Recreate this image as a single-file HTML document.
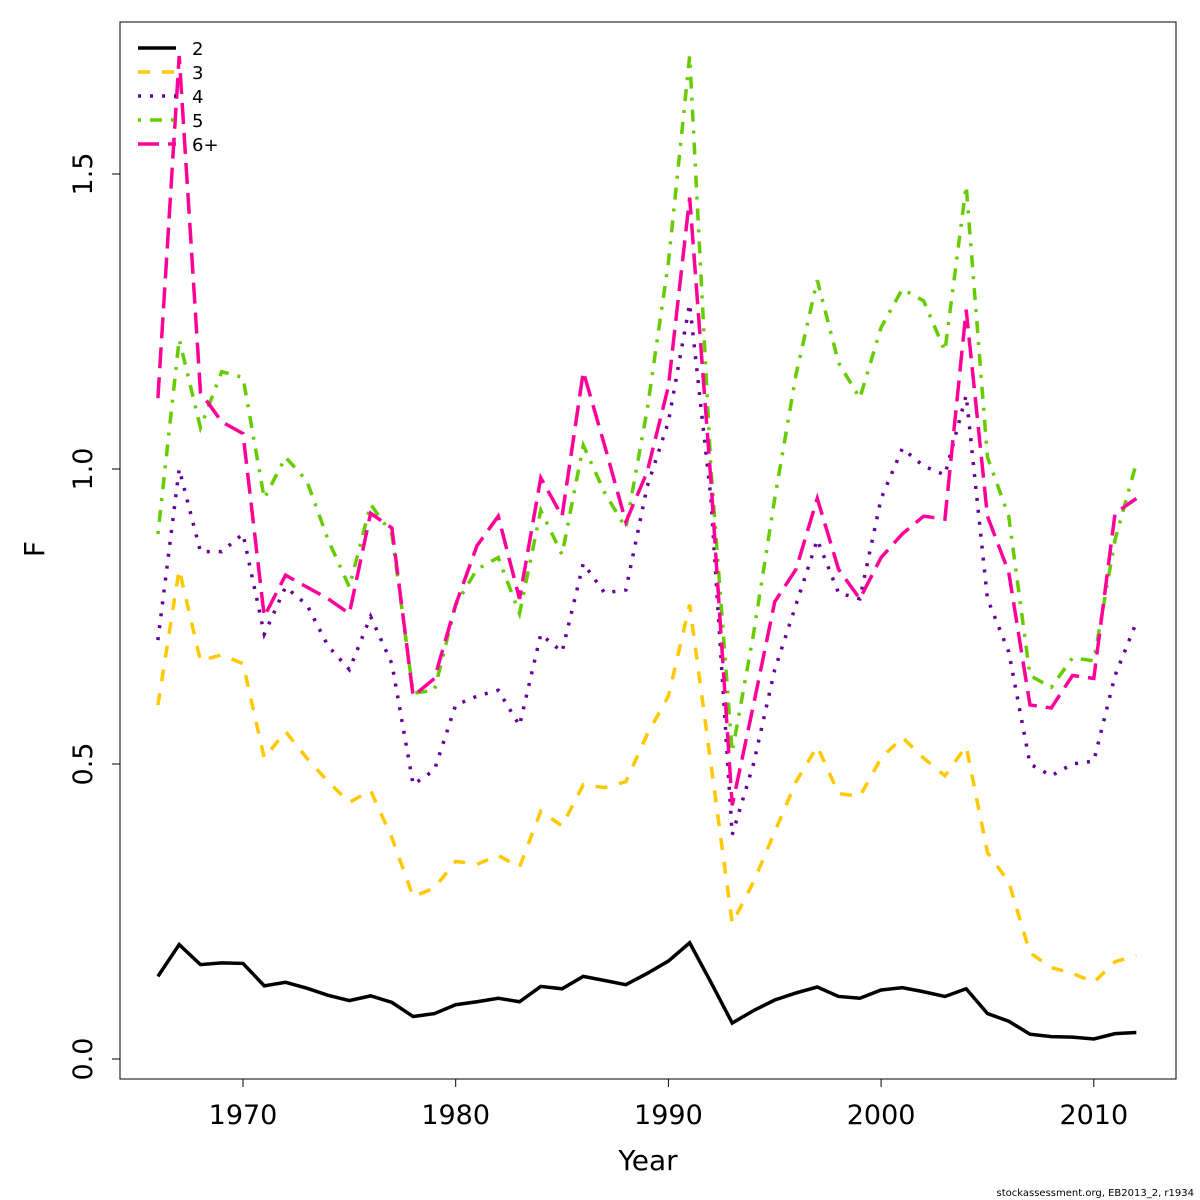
<!DOCTYPE html>
<html><head><meta charset="utf-8"><style>body{margin:0;background:#fff}svg{display:block;font-family:"DejaVu Sans","Liberation Sans",sans-serif}</style></head>
<body>
<svg id="chart" width="1200" height="1200" viewBox="0 0 1200 1200">
<rect x="120" y="22" width="1056" height="1057" fill="none" stroke="#000" stroke-width="1"/>
<g id="axes"></g>
<g id="series"></g>
<g id="legend"></g>
<text x="648" y="1170" font-size="28" text-anchor="middle">Year</text>
<text x="44" y="549" font-size="28" text-anchor="middle" transform="rotate(-90 44 549)">F</text>
<text x="1194" y="1196" font-size="10" text-anchor="end">stockassessment.org, EB2013_2, r1934</text>
</svg>
<script>
const years=[];for(let y=1966;y<=2012;y++)years.push(y);
const age2=[0.14,0.194,0.16,0.163,0.162,0.124,0.13,0.12,0.108,0.099,0.107,0.096,0.072,0.077,0.092,0.097,0.103,0.097,0.123,0.119,0.14,0.133,0.126,0.145,0.166,0.197,0.13,0.061,0.082,0.1,0.112,0.122,0.106,0.103,0.117,0.121,0.114,0.106,0.119,0.077,0.064,0.042,0.038,0.037,0.034,0.043,0.045];
const age3=[0.6,0.83,0.675,0.685,0.67,0.51,0.555,0.51,0.47,0.435,0.455,0.375,0.275,0.29,0.335,0.33,0.345,0.325,0.42,0.395,0.465,0.46,0.47,0.55,0.615,0.77,0.5,0.23,0.3,0.385,0.47,0.53,0.45,0.445,0.51,0.545,0.51,0.48,0.53,0.35,0.3,0.18,0.155,0.145,0.13,0.165,0.175];
const age4=[0.71,1.0,0.86,0.86,0.89,0.72,0.8,0.77,0.7,0.66,0.75,0.67,0.465,0.49,0.6,0.615,0.625,0.565,0.72,0.69,0.84,0.79,0.795,0.97,1.08,1.28,0.95,0.38,0.5,0.66,0.77,0.88,0.79,0.78,0.95,1.035,1.005,0.99,1.125,0.78,0.69,0.5,0.48,0.5,0.505,0.65,0.74];
const age5=[0.89,1.22,1.07,1.165,1.155,0.95,1.02,0.98,0.88,0.8,0.94,0.89,0.62,0.625,0.77,0.83,0.85,0.755,0.93,0.855,1.04,0.96,0.9,1.1,1.35,1.7,1.0,0.52,0.72,0.95,1.16,1.32,1.18,1.12,1.24,1.305,1.285,1.2,1.48,1.02,0.92,0.65,0.63,0.68,0.675,0.88,1.01];
const age6=[1.12,1.7,1.13,1.08,1.06,0.75,0.82,0.8,0.78,0.755,0.925,0.9,0.615,0.645,0.77,0.87,0.92,0.78,0.985,0.92,1.165,1.04,0.91,0.995,1.14,1.46,0.98,0.43,0.6,0.775,0.83,0.95,0.83,0.78,0.85,0.89,0.92,0.915,1.27,0.92,0.825,0.6,0.595,0.65,0.645,0.925,0.95];
const xTicks=[1970,1980,1990,2000,2010];
const yTicks=[0,0.5,1.0,1.5];
const yTickLabels=["0.0","0.5","1.0","1.5"];
const seriesNames=["2","3","4","5","6+"];
const NS="http://www.w3.org/2000/svg";
const sx=y=>243+(y-1970)*21.27;
const sy=v=>1059-v*590;
function mk(t,a,p){const e=document.createElementNS(NS,t);for(const k in a)e.setAttribute(k,a[k]);p.appendChild(e);return e;}
const ax=document.getElementById('axes');
xTicks.forEach((t,i)=>{
 const l=mk('line',{x1:sx(t),x2:sx(t),y1:1079,y2:1087,stroke:'#000'},ax);
 
 
 const tx=mk('text',{x:sx(t),y:1124,'font-size':27,'text-anchor':'middle'},ax);tx.textContent=t;
 
 
});
yTicks.forEach((t,i)=>{
 const l=mk('line',{x1:112,x2:120,y1:sy(t),y2:sy(t),stroke:'#000'},ax);
 
 
 const tx=mk('text',{x:92,y:sy(t),'font-size':27,'text-anchor':'middle',transform:`rotate(-90 92 ${sy(t)})`},ax);tx.textContent=yTickLabels[i];
 
 
});
const data=[age2,age3,age4,age5,age6];
const colors=["#000000","#FFC800","#660099","#66CC00","#FF0099"];
const dashes=["none","12,12","3,9","3,9,12,9","21,9"];
const sg=document.getElementById('series'),lg=document.getElementById('legend');
data.forEach((d,i)=>{
 const p=mk('polyline',{points:d.map((v,j)=>sx(years[j])+','+sy(v)).join(' '),fill:'none',stroke:colors[i],'stroke-width':3.5,'stroke-dasharray':dashes[i]},sg);
 
 
 const y=48+i*24;
 const ll=mk('line',{x1:138,x2:176,y1:y,y2:y,stroke:colors[i],'stroke-width':3.5,'stroke-dasharray':dashes[i]},lg);
 
 
 const lt=mk('text',{x:192,y:y+7,'font-size':18},lg);lt.textContent=seriesNames[i];
 
 
});
</script>
</body></html>
